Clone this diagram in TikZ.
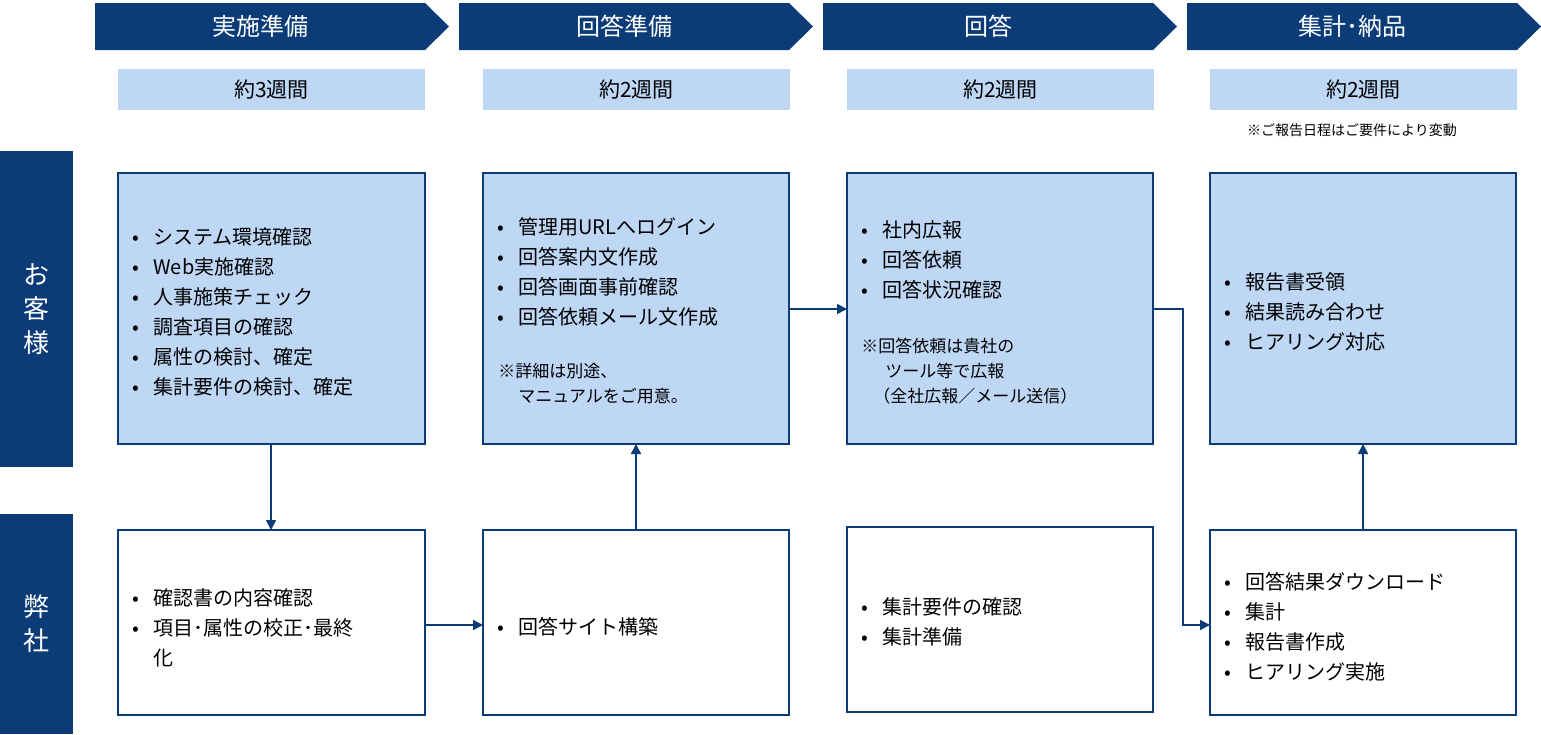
\documentclass[tikz,border=0pt]{standalone}
\usepackage{fontspec}
\setmainfont{Noto Sans CJK JP}
\usetikzlibrary{arrows.meta}
\definecolor{navy}{HTML}{0B3C78}
\definecolor{lblue}{HTML}{BDD7F5}
\newcommand{\bl}[1]{\makebox[10.5pt][l]{•}#1}
\tikzset{
 head/.style={fill=navy,draw=none},
 htext/.style={text=white,font=\fontsize{12}{14}\selectfont},
 dur/.style={fill=lblue,draw=none},
 cbox/.style={fill=lblue,draw=navy,line width=0.8pt},
 wbox/.style={fill=white,draw=navy,line width=0.8pt},
 lst/.style={anchor=west,align=left,font=\fontsize{10}{15}\selectfont,inner sep=0},
 note/.style={anchor=west,align=left,font=\fontsize{8.5}{12.5}\selectfont,inner sep=0},
 arr/.style={draw=navy,line width=0.8pt,-{Triangle[length=5pt,width=5pt]}},
 side/.style={fill=navy,draw=none}
}
\begin{document}
\begin{tikzpicture}[x=0.5pt,y=-0.5pt]
\useasboundingbox (0,0) rectangle (1541,734);
% headers
\foreach \x/\t/\n in {95/実施準備/h1,459/回答準備/h2,823/回答/h3,1187/集計･納品/h4}{
 \fill[navy] (\x,3) -- (\x+330,3) -- (\x+354,26.5) -- (\x+330,50) -- (\x,50) -- cycle;
 \node[htext] (\n) at (\x+165,26.5) {\t};
}
% durations
\foreach \x/\t/\n in {118/約3週間/d1,483/約2週間/d2,847/約2週間/d3,1210/約2週間/d4}{
 \fill[lblue] (\x,69) rectangle (\x+307,110);
 \node[font=\fontsize{10.5}{12}\selectfont] (\n) at (\x+153.5,90) {\t};
}
\node[font=\fontsize{7}{9}\selectfont] (nt) at (1352,130) {※ご報告日程はご要件により変動};
% side labels
\fill[navy] (0,151) rectangle (73,467);
\node[text=white,align=center,font=\fontsize{13}{17}\selectfont] (s1) at (36.5,309) {お\\客\\様};
\fill[navy] (0,514) rectangle (73,734);
\node[text=white,align=center,font=\fontsize{13}{17}\selectfont] (s2) at (36.5,624) {弊\\社};
% customer boxes
\draw[cbox] (118,173) rectangle (425,444);
\draw[cbox] (483,173) rectangle (789,444);
\draw[cbox] (847,173) rectangle (1153,444);
\draw[cbox] (1210,173) rectangle (1516,444);
\node (c1) at (271.5,444) {}; 
% company boxes
\draw[wbox] (118,530) rectangle (425,715);
\draw[wbox] (483,530) rectangle (789,715);
\draw[wbox] (847,527) rectangle (1153,712);
\draw[wbox] (1210,530) rectangle (1516,715);
% texts
\node[lst] (t1) at (132,312) {\bl{システム環境確認}\\\bl{Web実施確認}\\\bl{人事施策チェック}\\\bl{調査項目の確認}\\\bl{属性の検討、確定}\\\bl{集計要件の検討、確定}};
\node[lst] (t2) at (497,271.5) {\bl{管理用URLへログイン}\\\bl{回答案内文作成}\\\bl{回答画面事前確認}\\\bl{回答依頼メール文作成}};
\node[note] (n2) at (498,384) {※詳細は別途、\\\hspace{10pt}マニュアルをご用意。};
\node[lst] (t3) at (861,259.5) {\bl{社内広報}\\\bl{回答依頼}\\\bl{回答状況確認}};
\node[note] (n3) at (861,371) {※回答依頼は貴社の\\\hspace{12pt}ツール等で広報\\\hspace{6pt}（全社広報／メール送信）};
\node[lst] (t4) at (1224,311.5) {\bl{報告書受領}\\\bl{結果読み合わせ}\\\bl{ヒアリング対応}};
\node[lst] (u1) at (132,628) {\bl{確認書の内容確認}\\\bl{項目･属性の校正･最終}\\\hspace{10.5pt}化};
\node[lst] (u2) at (497,627) {\bl{回答サイト構築}};
\node[lst] (u3) at (861,622) {\bl{集計要件の確認}\\\bl{集計準備}};
\node[lst] (u4) at (1224,627) {\bl{回答結果ダウンロード}\\\bl{集計}\\\bl{報告書作成}\\\bl{ヒアリング実施}};
% arrow anchor coordinates
\coordinate (a1) at (271,444); \coordinate (b1) at (271,530);
\coordinate (a2) at (636,530); \coordinate (b2) at (636,444);
\coordinate (a3) at (425,625); \coordinate (b3) at (483,625);
\coordinate (a4) at (789,309); \coordinate (b4) at (847,309);
\coordinate (a5) at (1153,309); \coordinate (b5) at (1210,625);
\coordinate (a6) at (1363,530); \coordinate (b6) at (1363,444);
\draw[arr] (a1) -- (b1);
\draw[arr] (a2) -- (b2);
\draw[arr] (a3) -- (b3);
\draw[arr] (a4) -- (b4);
\draw[arr] (a5) -- (1183,309) -- (1183,625) -- (b5);
\draw[arr] (a6) -- (b6);
\end{tikzpicture}
\end{document}
